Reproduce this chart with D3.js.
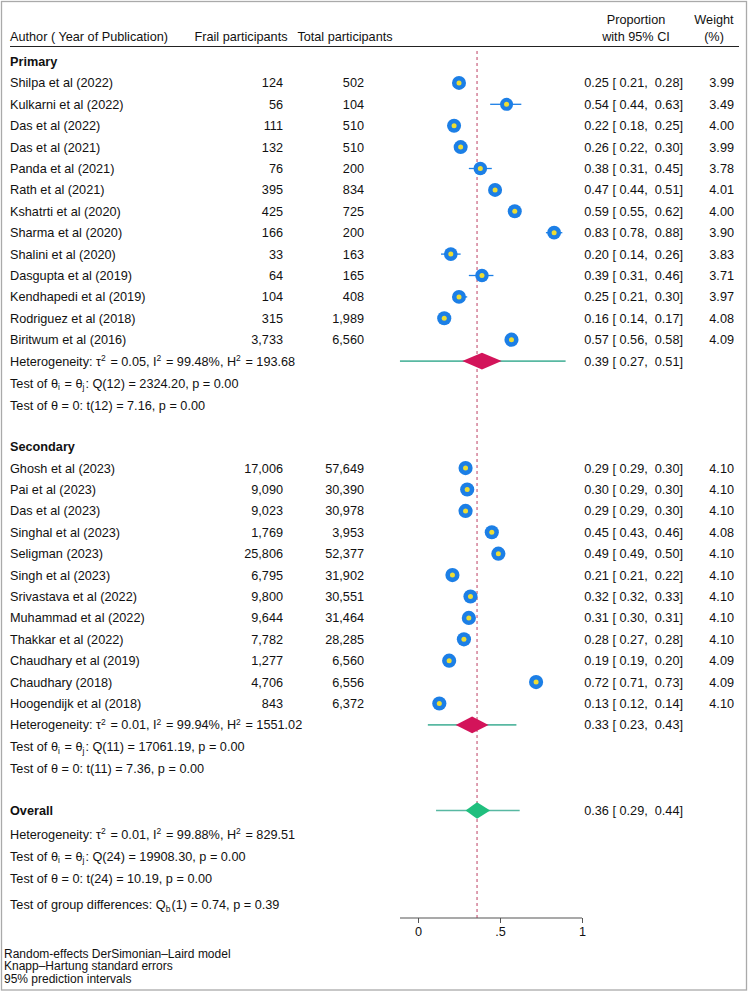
<!DOCTYPE html>
<html>
<head>
<meta charset="utf-8">
<script src="https://cdn.jsdelivr.net/npm/d3@7"></script>
<style>
  body { margin: 0; background: #fff; }
  text { font-family: "Liberation Sans", Arial, sans-serif; font-size: 12.7px; fill: #111; }
</style>
</head>
<body>
<svg width="750" height="993"></svg>
<script>
// ---- data ----
const primaryAuthors = ["Shilpa et al (2022)", "Kulkarni et al (2022)", "Das et al (2022)", "Das et al (2021)",
  "Panda et al (2021)", "Rath et al (2021)", "Kshatrti et al (2020)", "Sharma et al (2020)", "Shalini et al (2020)",
  "Dasgupta et al (2019)", "Kendhapedi et al (2019)", "Rodriguez et al (2018)", "Biritwum et al (2016)"]
const primaryFrail  = [124, 56, 111, 132, 76, 395, 425, 166, 33, 64, 104, 315, 3733]
const primaryTotal  = [502, 104, 510, 510, 200, 834, 725, 200, 163, 165, 408, 1989, 6560]
const primaryProp   = [0.25, 0.54, 0.22, 0.26, 0.38, 0.47, 0.59, 0.83, 0.20, 0.39, 0.25, 0.16, 0.57]
const primaryLo     = [0.21, 0.44, 0.18, 0.22, 0.31, 0.44, 0.55, 0.78, 0.14, 0.31, 0.21, 0.14, 0.56]
const primaryHi     = [0.28, 0.63, 0.25, 0.30, 0.45, 0.51, 0.62, 0.88, 0.26, 0.46, 0.30, 0.17, 0.58]
const primaryWeight = [3.99, 3.49, 4.00, 3.99, 3.78, 4.01, 4.00, 3.90, 3.83, 3.71, 3.97, 4.08, 4.09]

const secondaryAuthors = ["Ghosh et al (2023)", "Pai et al (2023)", "Das et al (2023)", "Singhal et al (2023)",
  "Seligman (2023)", "Singh et al (2023)", "Srivastava et al (2022)", "Muhammad et al (2022)", "Thakkar et al (2022)",
  "Chaudhary et al (2019)", "Chaudhary (2018)", "Hoogendijk et al (2018)"]
const secondaryFrail  = [17006, 9090, 9023, 1769, 25806, 6795, 9800, 9644, 7782, 1277, 4706, 843]
const secondaryTotal  = [57649, 30390, 30978, 3953, 52377, 31902, 30551, 31464, 28285, 6560, 6556, 6372]
const secondaryProp   = [0.29, 0.30, 0.29, 0.45, 0.49, 0.21, 0.32, 0.31, 0.28, 0.19, 0.72, 0.13]
const secondaryLo     = [0.29, 0.29, 0.29, 0.43, 0.49, 0.21, 0.32, 0.30, 0.27, 0.19, 0.71, 0.12]
const secondaryHi     = [0.30, 0.30, 0.30, 0.46, 0.50, 0.22, 0.33, 0.31, 0.28, 0.20, 0.73, 0.14]
const secondaryWeight = [4.10, 4.10, 4.10, 4.08, 4.10, 4.10, 4.10, 4.10, 4.10, 4.09, 4.09, 4.10]

// pooled estimates: Primary, Secondary, Overall
const pooledNames = ["Primary", "Secondary", "Overall"]
const pooledEst   = [0.39, 0.33, 0.36]
const pooledLo    = [0.27, 0.23, 0.29]
const pooledHi    = [0.51, 0.43, 0.44]
const predLo      = [-0.11, 0.06, 0.11]
const predHi      = [0.90, 0.60, 0.62]

const hetStats = [
  "Heterogeneity: τ^{2} = 0.05, I^{2} = 99.48%, H^{2} = 193.68",
  "Heterogeneity: τ^{2} = 0.01, I^{2} = 99.94%, H^{2} = 1551.02",
  "Heterogeneity: τ^{2} = 0.01, I^{2} = 99.88%, H^{2} = 829.51"]
const homStats = [
  "Test of θ_{i} = θ_{j}: Q(12) = 2324.20, p = 0.00",
  "Test of θ_{i} = θ_{j}: Q(11) = 17061.19, p = 0.00",
  "Test of θ_{i} = θ_{j}: Q(24) = 19908.30, p = 0.00"]
const zeroStats = [
  "Test of θ = 0: t(12) = 7.16, p = 0.00",
  "Test of θ = 0: t(11) = 7.36, p = 0.00",
  "Test of θ = 0: t(24) = 10.19, p = 0.00"]
const groupDiff = "Test of group differences: Q_{b}(1) = 0.74, p = 0.39"
const overallLine = 0.36
const xTicks = [0, 0.5, 1]
const footNotes = ["Random-effects DerSimonian–Laird model", "Knapp–Hartung standard errors", "95% prediction intervals"]

// ---- layout ----
const svg = d3.select("svg"),
      width = +svg.attr("width"),
      height = +svg.attr("height")

const x = d3.scaleLinear().domain([0, 1]).range([418, 582])
const row = d3.scaleLinear().domain([0, 1]).range([61.5, 82.9])   // row index -> text centre
const axisY = 918
const fmtN = d3.format(","), f2 = d3.format(".2f")
const colFrail = 283, colTotal = 364, colCI = 683, colW = 734
const base = 4.5   // text centre -> baseline

const blue = "#1c7fe6", yellow = "#eedd33", crimson = "#d3145a", teal = "#58b8a2", green = "#20bf7e"

// build the rows
const studies = []
primaryAuthors.forEach((a, i) => studies.push({author: a, frail: primaryFrail[i], total: primaryTotal[i],
  p: primaryProp[i], lo: primaryLo[i], hi: primaryHi[i], w: primaryWeight[i], r: 1 + i}))
secondaryAuthors.forEach((a, i) => studies.push({author: a, frail: secondaryFrail[i], total: secondaryTotal[i],
  p: secondaryProp[i], lo: secondaryLo[i], hi: secondaryHi[i], w: secondaryWeight[i], r: 19 + i}))

const groupRow  = [0, 18, 35]      // header row of each block
const pooledRow = [14, 31, 35]     // diamond row
const statRow   = [14, 31, 36.1]   // first stat line

// frame
svg.append("rect").attr("x", 1.5).attr("y", 1.5).attr("width", 745).attr("height", 988.5)
  .attr("fill", "none").attr("stroke", "#aaa").attr("stroke-width", 1.3)

// text with ^{sup} and _{sub}
function rich(sel, s) {
  const parts = s.split(/(\^\{[^}]*\}|_\{[^}]*\})/).filter(d => d !== "")
  parts.forEach(p => {
    if (p[0] === "^") {
      sel.append("tspan").attr("dy", -4.5).style("font-size", "8.5px").text(p.slice(2, -1))
      sel.append("tspan").attr("dy", 4.5).text("\u200a")
    } else if (p[0] === "_") {
      sel.append("tspan").attr("dy", 2.5).style("font-size", "8.5px").text(p.slice(2, -1))
      sel.append("tspan").attr("dy", -2.5).text("\u200a")
    } else sel.append("tspan").text(p)
  })
}

// header
const hdr = svg.append("g")
hdr.append("text").attr("x", 10).attr("y", 41).text("Author ( Year of Publication)")
hdr.append("text").attr("x", 241).attr("y", 41).attr("text-anchor", "middle").text("Frail participants")
hdr.append("text").attr("x", 345).attr("y", 41).attr("text-anchor", "middle").text("Total participants")
hdr.append("text").attr("x", 636).attr("y", 24).attr("text-anchor", "middle").text("Proportion")
hdr.append("text").attr("x", 636).attr("y", 41).attr("text-anchor", "middle").text("with 95% CI")
hdr.append("text").attr("x", 714).attr("y", 24).attr("text-anchor", "middle").text("Weight")
hdr.append("text").attr("x", 714).attr("y", 41).attr("text-anchor", "middle").text("(%)")
hdr.append("line").attr("x1", 10).attr("x2", 739).attr("y1", 46.5).attr("y2", 46.5)
  .attr("stroke", "#222").attr("stroke-width", 1)

// overall reference line
svg.append("line").attr("x1", x(overallLine)).attr("x2", x(overallLine))
  .attr("y1", 51).attr("y2", axisY)
  .attr("stroke", "#c8607e").attr("stroke-width", 1.2).attr("stroke-dasharray", "3,3")

// group labels
svg.selectAll(".grp").data(pooledNames).enter().append("text")
  .attr("x", 10).attr("y", (d, i) => row(groupRow[i]) + base)
  .style("font-weight", "bold").text(d => d)

// study rows
const rows = svg.selectAll(".study").data(studies).enter().append("g")
rows.append("text").attr("x", 10).attr("y", d => row(d.r) + base).text(d => d.author)
rows.append("text").attr("x", colFrail).attr("y", d => row(d.r) + base).attr("text-anchor", "end").text(d => fmtN(d.frail))
rows.append("text").attr("x", colTotal).attr("y", d => row(d.r) + base).attr("text-anchor", "end").text(d => fmtN(d.total))
rows.append("text").attr("x", colCI).attr("y", d => row(d.r) + base).attr("text-anchor", "end")
  .attr("xml:space", "preserve").style("white-space", "pre")
  .text(d => `${f2(d.p)} [ ${f2(d.lo)},  ${f2(d.hi)}]`)
rows.append("text").attr("x", colW).attr("y", d => row(d.r) + base).attr("text-anchor", "end").text(d => f2(d.w))
rows.append("line").attr("x1", d => x(d.lo)).attr("x2", d => x(d.hi))
  .attr("y1", d => row(d.r)).attr("y2", d => row(d.r)).attr("stroke", blue).attr("stroke-width", 1.3)
rows.append("circle").attr("cx", d => x(d.p)).attr("cy", d => row(d.r))
  .attr("r", d => 3.5 * Math.sqrt(d.w)).attr("fill", blue)
rows.append("circle").attr("cx", d => x(d.p)).attr("cy", d => row(d.r)).attr("r", 2.5).attr("fill", yellow)

// pooled diamonds with prediction intervals
const pooled = pooledNames.map((n, i) => ({n, est: pooledEst[i], lo: pooledLo[i], hi: pooledHi[i],
  plo: predLo[i], phi: predHi[i], r: pooledRow[i], col: i === 2 ? green : crimson}))
const pg = svg.selectAll(".pooled").data(pooled).enter().append("g")
pg.append("line").attr("x1", d => x(d.plo)).attr("x2", d => x(d.phi))
  .attr("y1", d => row(d.r)).attr("y2", d => row(d.r)).attr("stroke", teal).attr("stroke-width", 1.6)
pg.append("path").attr("fill", d => d.col)
  .attr("d", d => {
    const y = row(d.r), h = 8.3
    return `M${x(d.lo)},${y}L${x(d.est)},${y - h}L${x(d.hi)},${y}L${x(d.est)},${y + h}Z`
  })
pg.append("text").attr("x", colCI).attr("y", d => row(d.r) + base).attr("text-anchor", "end")
  .attr("xml:space", "preserve").style("white-space", "pre")
  .text(d => `${f2(d.est)} [ ${f2(d.lo)},  ${f2(d.hi)}]`)

// stats lines
pooledNames.forEach((n, i) => {
  const lines = [hetStats[i], homStats[i], zeroStats[i]]
  lines.forEach((s, k) => {
    const t = svg.append("text").attr("x", 10).attr("y", row(statRow[i] + k * 1.03) + base)
    rich(t, s)
  })
})
rich(svg.append("text").attr("x", 10).attr("y", row(39.4) + base), groupDiff)

// axis
const axis = svg.append("g").attr("transform", `translate(0,${axisY})`)
  .call(d3.axisBottom(x).tickValues(xTicks).tickSize(5).tickPadding(4)
    .tickFormat(d => d === 0 ? "0" : d === 1 ? "1" : ".5"))
axis.select(".domain").attr("d", `M${x(d3.min(predLo))},0H${x(1)}`).attr("stroke", "#555").attr("stroke-width", 1.2)
axis.selectAll(".tick line").attr("stroke", "#555")
axis.selectAll(".tick text").style("font-family", "Liberation Sans, Arial, sans-serif").style("font-size", "12.7px").attr("fill", "#111")

// footnotes
svg.selectAll(".foot").data(footNotes).enter().append("text")
  .attr("x", 4).attr("y", (d, i) => 958 + i * 12.3).style("font-size", "12px").text(d => d)
</script>
</body>
</html>
